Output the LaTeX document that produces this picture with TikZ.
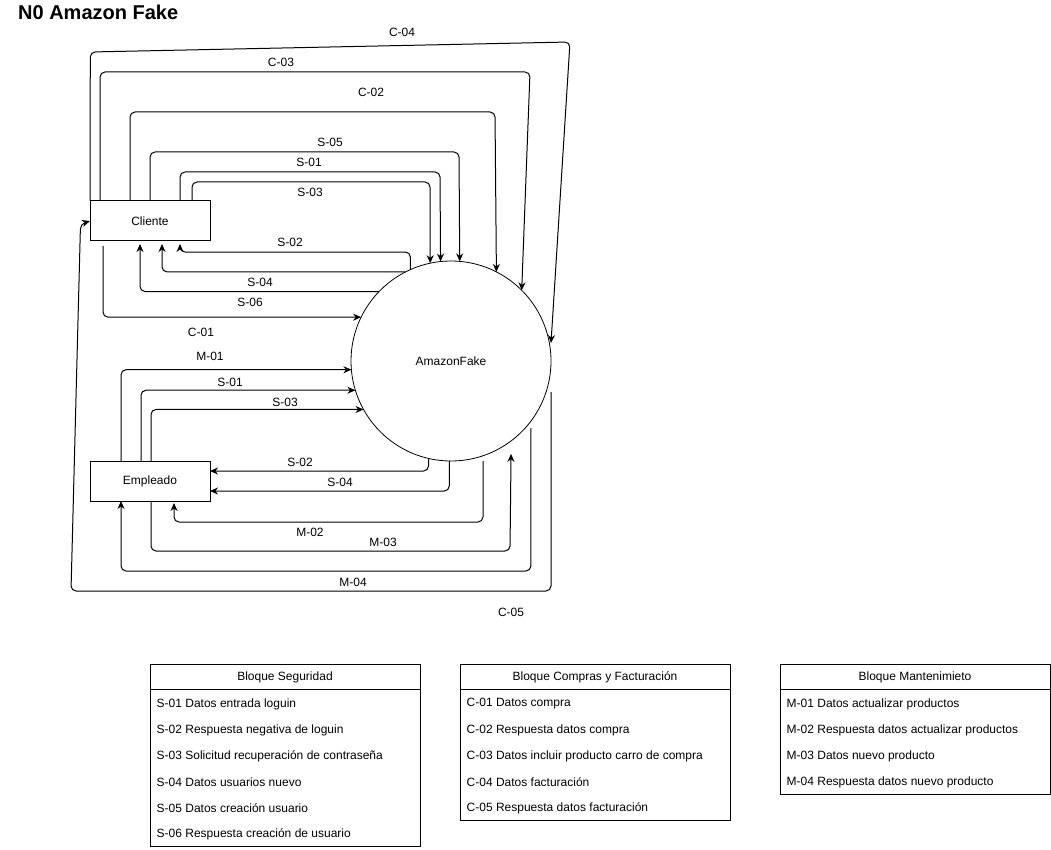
\documentclass[tikz,border=0pt]{standalone}
\usepackage{fontspec}
\setmainfont{Liberation Sans}
\usetikzlibrary{arrows.meta}
\begin{document}
\begin{tikzpicture}[x=1pt,y=-1pt,
  every node/.style={font=\fontsize{12}{14}\selectfont, inner sep=0pt},
  ent/.style={draw, line width=1pt, minimum width=120pt, minimum height=40pt, inner sep=0pt, outer sep=0pt},
  proc/.style={draw, circle, line width=0.8pt, minimum size=200pt, inner sep=0pt, outer sep=0pt},
  flow/.style={line width=1pt, rounded corners=5pt, -{Stealth[length=8pt,width=7pt]}},
  tbl/.style={draw, line width=1pt, minimum width=270pt, inner sep=0pt, outer sep=0pt},
  row/.style={anchor=west}
]
\fill[white] (0,0) rectangle (1051,850);
\useasboundingbox (0,0) rectangle (1051,850);

\node[anchor=base west, font=\bfseries\fontsize{20}{24}\selectfont] (title) at (18,20) {N0 Amazon Fake};

\node[ent] (cli) at (150,221) {Cliente};
\node[ent] (emp) at (150,481) {Empleado};
\node[proc] (amz) at (451,361) {AmazonFake};

% Cliente -> AmazonFake (top)
\draw[flow] (cli.north west) -- (90.3,52) -- (570,42) -- (amz.east |- 0,343);
\draw[flow] (cli.north -| 100,0) -- (100,72) -- (530,72) -- (amz.45.8);
\draw[flow] (cli.north -| 130,0) |- (495,112) -- (amz.63.9);
\draw[flow] (cli.north -| 150,0) |- (459,152) -- (amz.85.4);
\draw[flow] (cli.north -| 180,0) |- (440,172) -- (amz.96.3);
\draw[flow] (cli.north -| 192,0) |- (430,182) -- (amz.102.1);

% AmazonFake -> Cliente (bottom)
\draw[flow, shorten >=3pt] (amz.114.2) |- (180,252) -- (cli.south -| 180,0);
\draw[flow, shorten >=3pt] (amz.117.1) -| (cli.south -| 162,0);
\draw[flow, shorten >=3pt] (amz.136.1) -| (cli.south -| 140,0);
\draw[flow, shorten <=5pt] (cli.south -| 103,0) |- (amz.154.3);

% Empleado -> AmazonFake
\draw[flow] (emp.north -| 121,0) |- (amz.185.6);
\draw[flow] (emp.north -| 141,0) |- (amz.197.5);
\draw[flow] (emp.north -| 151,0) |- (amz.209.3);

% AmazonFake -> Empleado
\draw[flow] (amz.257.5) |- (emp.east |- 0,471);
\draw[flow] (amz.269.4) |- (emp.east |- 0,491);
\draw[flow, shorten >=2pt] (amz.south -| 483,0) |- (174,522) -- (emp.south -| 174,0);
\draw[flow, shorten >=13pt] (emp.south -| 151,0) |- (510,551) -- (amz.-53.8);
\draw[flow, shorten <=7pt] (amz.-37.8) |- (121,571) -- (emp.south -| 121,0);

% C-05 AmazonFake -> Cliente
\draw[flow] (amz.east |- 0,392) |- (71,591) -- (80.5,224) [sharp corners] -- (cli.west);

% labels
\node (lC04) at (402,32) {C-04};
\node (lC03) at (281,62) {C-03};
\node (lC02) at (371,92) {C-02};
\node (lS05) at (330,142) {S-05};
\node (lS01a) at (309,162) {S-01};
\node (lS03a) at (310,192) {S-03};
\node (lS02a) at (290,242) {S-02};
\node (lS04a) at (260,282) {S-04};
\node (lS06) at (250,302) {S-06};
\node (lC01) at (201,332) {C-01};
\node (lM01) at (210,356) {M-01};
\node (lS01b) at (230,382) {S-01};
\node (lS03b) at (285,402) {S-03};
\node (lS02b) at (300,462) {S-02};
\node (lS04b) at (340,482) {S-04};
\node (lM02) at (310,532) {M-02};
\node (lM03) at (383,542) {M-03};
\node (lM04) at (353,582) {M-04};
\node (lC05) at (511,612) {C-05};

% Tables
\node[tbl, minimum height=182pt] (tseg) at (285,755) {};
\draw[line width=1pt] ([yshift=-25.5pt]tseg.north west) -- ([yshift=-25.5pt]tseg.north east);
\node (hseg) at ([yshift=-13.5pt]tseg.north) {Bloque Seguridad};
\node[row] (s1) at ([xshift=6.5pt,yshift=-40pt]tseg.north west) {S-01 Datos entrada loguin};
\node[row] (s2) at ([xshift=6.5pt,yshift=-66pt]tseg.north west) {S-02 Respuesta negativa de loguin};
\node[row] (s3) at ([xshift=6.5pt,yshift=-92pt]tseg.north west) {S-03 Solicitud recuperación de contraseña};
\node[row] (s4) at ([xshift=6.5pt,yshift=-118pt]tseg.north west) {S-04 Datos usuarios nuevo};
\node[row] (s5) at ([xshift=6.5pt,yshift=-144pt]tseg.north west) {S-05 Datos creación usuario};
\node[row] (s6) at ([xshift=6.5pt,yshift=-170pt]tseg.north west) {S-06 Respuesta creación de usuario};

\node[tbl, minimum height=156pt] (tcom) at (595,742) {};
\draw[line width=1pt] ([yshift=-25.5pt]tcom.north west) -- ([yshift=-25.5pt]tcom.north east);
\node (hcom) at ([yshift=-13.5pt]tcom.north) {Bloque Compras y Facturación};
\node[row] (c1) at ([xshift=6.5pt,yshift=-40pt]tcom.north west) {C-01 Datos compra};
\node[row] (c2) at ([xshift=6.5pt,yshift=-66pt]tcom.north west) {C-02 Respuesta datos compra};
\node[row] (c3) at ([xshift=6.5pt,yshift=-92pt]tcom.north west) {C-03 Datos incluir producto carro de compra};
\node[row] (c4) at ([xshift=6.5pt,yshift=-118pt]tcom.north west) {C-04 Datos facturación};
\node[row] (c5) at ([xshift=6.5pt,yshift=-144pt]tcom.north west) {C-05 Respuesta datos facturación};

\node[tbl, minimum height=130pt] (tman) at (915,729) {};
\draw[line width=1pt] ([yshift=-25.5pt]tman.north west) -- ([yshift=-25.5pt]tman.north east);
\node (hman) at ([yshift=-13.5pt]tman.north) {Bloque Mantenimieto};
\node[row] (m1) at ([xshift=6.5pt,yshift=-40pt]tman.north west) {M-01 Datos actualizar productos};
\node[row] (m2) at ([xshift=6.5pt,yshift=-66pt]tman.north west) {M-02 Respuesta datos actualizar productos};
\node[row] (m3) at ([xshift=6.5pt,yshift=-92pt]tman.north west) {M-03 Datos nuevo producto};
\node[row] (m4) at ([xshift=6.5pt,yshift=-118pt]tman.north west) {M-04 Respuesta datos nuevo producto};
\end{tikzpicture}
\end{document}
